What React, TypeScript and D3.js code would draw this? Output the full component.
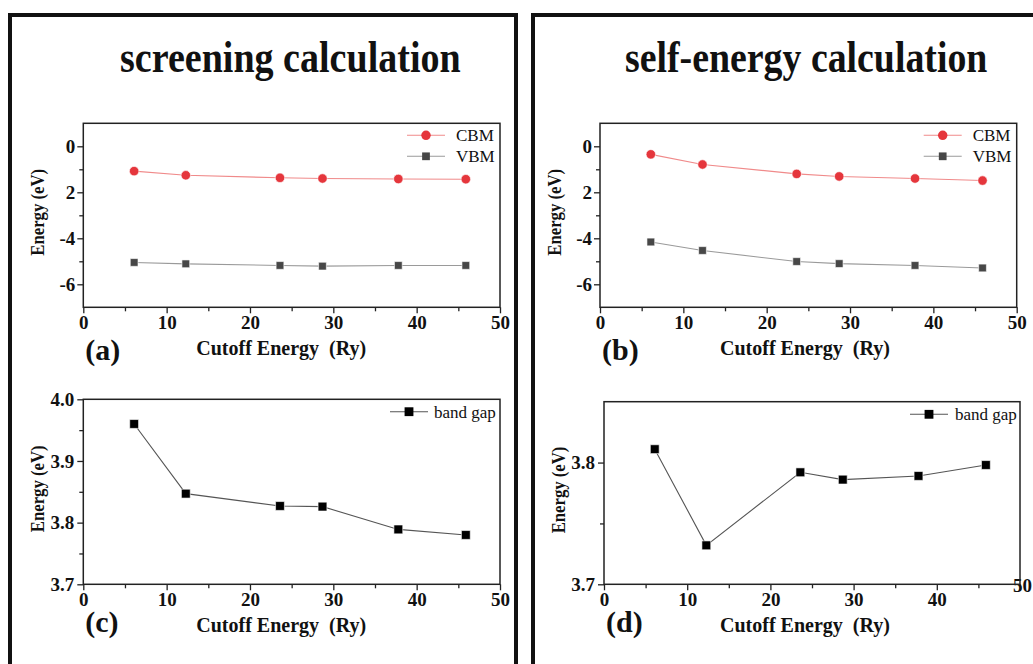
import React, { useEffect, useRef } from "react";
import * as d3 from "d3";

// cutoff energies (Ry) shared by all four panels
const cutoff = [6.1, 12.3, 23.6, 28.7, 37.8, 45.9];

// (a) screening calculation
const cbmScreening = [-1.08, -1.26, -1.37, -1.4, -1.42, -1.43];
const vbmScreening = [-5.05, -5.11, -5.18, -5.21, -5.18, -5.18];
// (b) self-energy calculation
const cbmSelf = [-0.35, -0.79, -1.2, -1.31, -1.4, -1.49];
const vbmSelf = [-4.16, -4.53, -5.01, -5.1, -5.18, -5.29];
// (c) / (d) band gaps
const gapScreening = [3.96, 3.847, 3.827, 3.826, 3.789, 3.78];
const gapSelf = [3.811, 3.732, 3.792, 3.786, 3.789, 3.798];

const xTicks = [0, 10, 20, 30, 40, 50];
const xMinorTicks = [5, 15, 25, 35, 45];
const energyTicks = [0, -2, -4, -6];
const energyTickLabels = ["0", "2", "-4", "-6"];
const energyMinorTicks = [-1, -3, -5];
const gapTicks = [3.7, 3.8, 3.9, 4.0];
const gapTickLabels = ["3.7", "3.8", "3.9", "4.0"];
const gapMinorTicks = [3.75, 3.85, 3.95];
const gapSelfTicks = [3.7, 3.8];
const gapSelfTickLabels = ["3.7", "3.8"];
const gapSelfMinorTicks = [3.75];

const FONT = '"Liberation Serif", "Times New Roman", serif';

function drawPanel(svg, p) {
  const x = d3.scaleLinear().domain([0, 50]).range([p.left, p.right]);
  const y = d3.scaleLinear().domain(p.yDomain).range([p.bottom, p.top]);
  const g = svg.append("g");

  const styleAxis = (ax) => {
    ax.select(".domain").remove();
    ax.selectAll(".tick line").attr("stroke", "#222").attr("stroke-width", 1.3);
    ax.selectAll(".tick text")
      .attr("fill", "#111")
      .style("font-family", FONT)
      .style("font-weight", "bold")
      .style("font-size", "19px");
  };

  // x axis, minor + major
  styleAxis(g.append("g").attr("transform", `translate(0,${p.bottom})`)
    .call(d3.axisBottom(x).tickValues(xMinorTicks).tickSize(4).tickFormat(() => "")));
  const gx = g.append("g").attr("transform", `translate(0,${p.bottom})`)
    .call(d3.axisBottom(x).tickValues(xTicks).tickSize(6).tickPadding(2.5).tickFormat(d3.format("d")));
  styleAxis(gx);
  if (p.lastTickNudge) {
    gx.selectAll(".tick text").filter((d) => d === 50)
      .attr("dx", p.lastTickNudge[0]).attr("dy", p.lastTickNudge[1]);
  }

  // y axis
  styleAxis(g.append("g").attr("transform", `translate(${p.left},0)`)
    .call(d3.axisLeft(y).tickValues(p.yMinor).tickSize(4).tickFormat(() => "")));
  styleAxis(g.append("g").attr("transform", `translate(${p.left},0)`)
    .call(d3.axisLeft(y).tickValues(p.yTicks).tickSize(6).tickPadding(p.yPad)
      .tickFormat((d, i) => p.yLabels[i])));

  // frame of the plot
  g.append("rect")
    .attr("x", p.left).attr("y", p.top)
    .attr("width", p.right - p.left).attr("height", p.bottom - p.top)
    .attr("fill", "none").attr("stroke", "#222").attr("stroke-width", 1.5);

  const line = d3.line().x((d) => x(d[0])).y((d) => y(d[1]));

  p.series.forEach((s, k) => {
    const pts = cutoff.map((c, i) => [c, s.values[i]]);
    g.append("path").attr("d", line(pts))
      .attr("fill", "none").attr("stroke", s.line).attr("stroke-width", 1.1);
    const sym = d3.symbol().type(s.shape).size(s.size);
    g.selectAll(null).data(pts).join("path")
      .attr("transform", (d) => `translate(${x(d[0])},${y(d[1])})`)
      .attr("d", sym)
      .attr("fill", s.fill)
      .attr("stroke", "#fff").attr("stroke-width", 0.6);

    // legend entry
    const ly = p.top + p.legendY[k];
    g.append("line")
      .attr("x1", p.right + p.legendX[0]).attr("x2", p.right + p.legendX[1])
      .attr("y1", ly).attr("y2", ly)
      .attr("stroke", s.line).attr("stroke-width", 1.1);
    g.append("path")
      .attr("transform", `translate(${p.right + (p.legendX[0] + p.legendX[1]) / 2},${ly})`)
      .attr("d", sym).attr("fill", s.fill);
    g.append("text")
      .attr("x", p.right + p.legendX[2]).attr("y", ly + 6)
      .style("font-family", FONT).style("font-size", "17px")
      .attr("fill", "#111")
      .text(s.name);
  });

  // axis titles
  g.append("text")
    .attr("x", p.left + p.xTitleDx).attr("y", p.bottom + 47.5)
    .style("font-family", FONT).style("font-weight", "bold").style("font-size", "20px")
    .style("white-space", "pre")
    .attr("fill", "#111")
    .text("Cutoff Energy  (Ry)");
  g.append("text")
    .attr("transform", `translate(${p.left - 39},${(p.top + p.bottom) / 2 - 3}) rotate(-90) scale(0.88,1)`)
    .attr("text-anchor", "middle")
    .style("font-family", FONT).style("font-weight", "bold").style("font-size", "19px")
    .attr("fill", "#111")
    .text("Energy (eV)");

  // panel tag
  g.append("text")
    .attr("x", p.left + 2).attr("y", p.tagY)
    .style("font-family", FONT).style("font-weight", "bold").style("font-size", "30px")
    .attr("fill", "#111")
    .text(p.tag);
}

export default function App() {
  const ref = useRef(null);

  useEffect(() => {
    const svg = d3.select(ref.current);
    svg.selectAll("*").remove();

    // outer frames
    svg.append("rect").attr("x", 10).attr("y", 15).attr("width", 506).attr("height", 700)
      .attr("fill", "none").attr("stroke", "#111").attr("stroke-width", 4);
    svg.append("rect").attr("x", 533).attr("y", 15).attr("width", 520).attr("height", 700)
      .attr("fill", "none").attr("stroke", "#111").attr("stroke-width", 4);

    // titles, drawn wide then squeezed horizontally like the original
    svg.append("text").attr("transform", "translate(120,72) scale(0.865,1)")
      .style("font-family", FONT).style("font-weight", "bold").style("font-size", "44px")
      .attr("fill", "#111").text("screening calculation");
    svg.append("text").attr("transform", "translate(625,72) scale(0.86,1)")
      .style("font-family", FONT).style("font-weight", "bold").style("font-size", "44px")
      .attr("fill", "#111").text("self-energy calculation");

    const cbm = { name: "CBM", shape: d3.symbolCircle, size: 70, fill: "#e5363c", line: "#f08a8a" };
    const vbm = { name: "VBM", shape: d3.symbolSquare, size: 60, fill: "#474747", line: "#9a9a9a" };
    const gap = { name: "band gap", shape: d3.symbolSquare, size: 78, fill: "#000", line: "#555" };

    const energyAxis = {
      yDomain: [-7, 1], yTicks: energyTicks, yLabels: energyTickLabels,
      yMinor: energyMinorTicks, yPad: 2,
      legendX: [-93, -55, -44], legendY: [12, 33],
    };

    drawPanel(svg, {
      ...energyAxis, left: 83.3, right: 500, top: 123.3, bottom: 307.3,
      series: [{ ...cbm, values: cbmScreening }, { ...vbm, values: vbmScreening }],
      tag: "(a)", tagY: 360, xTitleDx: 113,
    });
    drawPanel(svg, {
      ...energyAxis, left: 600, right: 1016.7, top: 123.3, bottom: 307.3,
      series: [{ ...cbm, values: cbmSelf }, { ...vbm, values: vbmSelf }],
      tag: "(b)", tagY: 360, xTitleDx: 120,
    });
    drawPanel(svg, {
      left: 83.3, right: 500, top: 399.3, bottom: 584.3,
      yDomain: [3.7, 4.0], yTicks: gapTicks, yLabels: gapTickLabels,
      yMinor: gapMinorTicks, yPad: 3,
      legendX: [-110, -72, -66], legendY: [12.4],
      series: [{ ...gap, values: gapScreening }],
      tag: "(c)", tagY: 632, xTitleDx: 113,
    });
    drawPanel(svg, {
      left: 604, right: 1020, top: 401.7, bottom: 584.3,
      yDomain: [3.7, 3.85], yTicks: gapSelfTicks, yLabels: gapSelfTickLabels,
      yMinor: gapSelfMinorTicks, yPad: 3,
      legendX: [-110, -72, -65], legendY: [12.6],
      series: [{ ...gap, values: gapSelf }],
      tag: "(d)", tagY: 632, xTitleDx: 116,
      lastTickNudge: [2, "-0.05em"],
    });
  }, []);

  return (
    <svg
      ref={ref}
      width={1033}
      height={664}
      style={{ position: "absolute", left: 0, top: 0, background: "#fff" }}
    />
  );
}
